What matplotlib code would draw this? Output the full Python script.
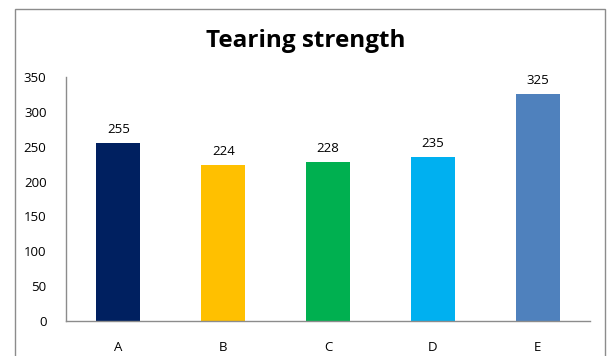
import matplotlib.pyplot as plt
from matplotlib.patches import Rectangle

plt.rcParams['font.family'] = ['Open Sans', 'DejaVu Sans']

categories = ["A", "B", "C", "D", "E"]
values = [255, 224, 228, 235, 325]
colors = ["#002060", "#FFC000", "#00B050", "#00B0F0", "#4F81BD"]
yticks = [0, 50, 100, 150, 200, 250, 300, 350]

fig = plt.figure(figsize=(6.11, 3.56), dpi=100)
ax = fig.add_axes([0.108, 0.098, 0.858, 0.686])

# outer chart border
fig.patches.append(Rectangle((15 / 611, -0.05), 590 / 611, 1.05 - 9 / 356,
                             transform=fig.transFigure, fill=False,
                             edgecolor="#8c8c8c", linewidth=1.0))

x = range(len(categories))
bars = ax.bar(x, values, width=0.42, color=colors)
for b, v in zip(bars, values):
    ax.annotate(str(v), (b.get_x() + b.get_width() / 2, v),
                xytext=(0, 5), textcoords="offset points",
                ha="center", va="bottom", fontsize=9.5)

ax.set_xlim(-0.5, len(categories) - 0.5)
ax.set_ylim(0, 350)
ax.set_xticks(list(x))
ax.set_xticklabels(categories, fontsize=9.5)
ax.set_yticks(yticks)
ax.tick_params(axis="both", length=0, labelsize=9.5)
ax.tick_params(axis="x", pad=14)
ax.tick_params(axis="y", pad=14)

for s in ["top", "right"]:
    ax.spines[s].set_visible(False)
for s in ["left", "bottom"]:
    ax.spines[s].set_color("#8c8c8c")
    ax.spines[s].set_linewidth(1.0)

fig.text(0.5, 1 - 41 / 356, "Tearing strength", ha="center", va="center",
         fontsize=17.5, fontweight="bold")

fig.savefig("out.png", dpi=100)
